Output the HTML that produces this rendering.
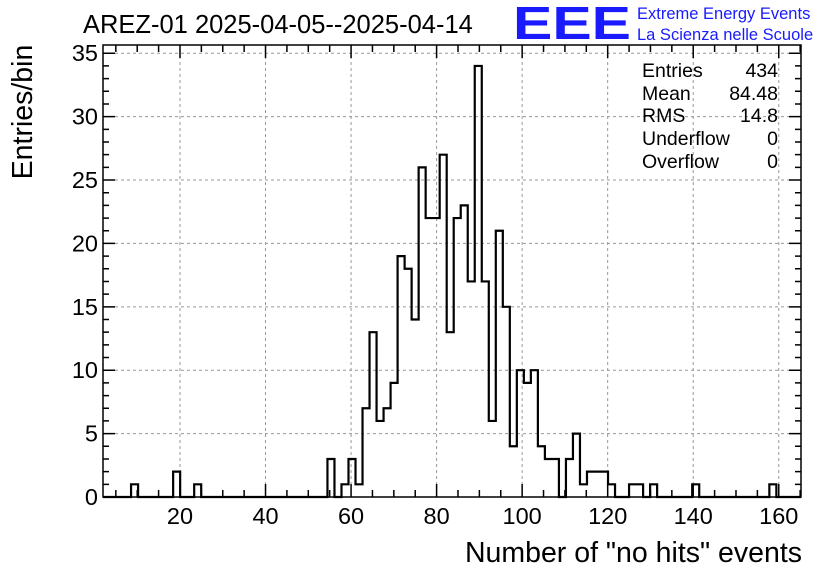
<!DOCTYPE html>
<html><head><meta charset="utf-8"><style>
html,body{margin:0;padding:0;background:#fff;}
svg{display:block;font-family:"Liberation Sans",Arial,sans-serif;}
</style></head><body>
<svg id="chart" width="836" height="572" viewBox="0 0 836 572">
<text x="83" y="33" font-size="25.5" fill="#000">AREZ-01 2025-04-05--2025-04-14</text>
<text x="513" y="39" font-size="46" fill="#1a1aff" font-weight="bold" textLength="118" lengthAdjust="spacingAndGlyphs">EEE</text>
<text x="637" y="19" font-size="16.5" fill="#1a1aff">Extreme Energy Events</text>
<text x="637" y="40" font-size="16.5" fill="#1a1aff">La Scienza nelle Scuole</text>
<g id="grid"></g>
<g id="axes"></g>
<path id="hist" fill="none" stroke="#000" stroke-width="2.2"></path>
<rect x="103" y="45" width="698" height="452" fill="none" stroke="#000" stroke-width="1.5"></rect>
<g font-size="19.5">
<text x="642" y="77">Entries</text><text x="778" y="77" text-anchor="end">434</text>
<text x="642" y="100">Mean</text><text x="778" y="100" text-anchor="end">84.48</text>
<text x="642" y="122">RMS</text><text x="778" y="122" text-anchor="end">14.8</text>
<text x="642" y="145">Underflow</text><text x="778" y="145" text-anchor="end">0</text>
<text x="642" y="168">Overflow</text><text x="778" y="168" text-anchor="end">0</text>
</g>
<text transform="translate(32,112) rotate(-90)" text-anchor="middle" font-size="28.5">Entries/bin</text>
<text x="802" y="562" text-anchor="end" font-size="28.5">Number of "no hits" events</text>
</svg>
<script>
const binStart = 2;
const binWidth = 1.64;
const counts = [0,0,0,0,1,0,0,0,0,0,2,0,0,1,0,0,0,0,0,0,
0,0,0,0,0,0,0,0,0,0,0,0,3,0,1,3,1,7,13,6,
7,9,19,18,14,26,22,22,27,13,22,23,17,34,17,6,21,15,4,10,
9,10,4,3,3,0,3,5,1,2,2,2,1,0,0,1,1,0,1,0,
0,0,0,0,1,0,0,0,0,0,0,0,0,0,0,1,0,0,0,0];
const xTicks = [20,40,60,80,100,120,140,160];
const yTicks = [0,5,10,15,20,25,30,35];
const X0=103,X1=801,Y0=497,Y1=45, xmin=2, xmax=165.2, ymax=35.65;
const sx=v=>X0+(v-xmin)/(xmax-xmin)*(X1-X0);
const sy=v=>Y0-v/ymax*(Y0-Y1);
const NS="http://www.w3.org/2000/svg";
const grid=document.getElementById('grid'), axes=document.getElementById('axes');
function mk(tag,attrs,parent){const e=document.createElementNS(NS,tag);for(const k in attrs)e.setAttribute(k,attrs[k]);parent.appendChild(e);return e;}
xTicks.forEach(t=>{
  const l=mk('line',{x1:sx(t),x2:sx(t),y1:Y0,y2:Y1,stroke:'#999','stroke-dasharray':'3,3','stroke-width':1},grid);
  
  
  const tx=mk('text',{x:sx(t),y:524,'text-anchor':'middle','font-size':23.5},axes);
  tx.textContent=t;
  
  
});
yTicks.forEach(t=>{
  if(t>0){const l=mk('line',{x1:X0,x2:X1,y1:sy(t),y2:sy(t),stroke:'#999','stroke-dasharray':'3,3','stroke-width':1},grid);
  
  }
  const tx=mk('text',{x:98,y:sy(t)+8,'text-anchor':'end','font-size':23.5},axes);
  tx.textContent=t;
  
  
});
let d='';
for(let v=5;v<xmax;v+=5){const major=v%20===0,len=major?13:7;
  d+=`M${sx(v)},${Y0}v${-len}M${sx(v)},${Y1}v${len}`;}
for(let v=1;v<ymax;v++){const major=v%5===0,len=major?12:6;
  d+=`M${X0},${sy(v)}h${len}M${X1},${sy(v)}h${-len}`;}
const tk=mk('path',{d:d,stroke:'#000','stroke-width':1.5,fill:'none'},axes);


let p=`M${sx(binStart)},${sy(0)}`;
counts.forEach((c,i)=>{const a=binStart+i*binWidth,b=a+binWidth;
  p+=`L${sx(a)},${sy(c)}L${sx(Math.min(b,xmax))},${sy(c)}`;});
document.getElementById('hist').setAttribute('d',p);
</script>
</body></html>
